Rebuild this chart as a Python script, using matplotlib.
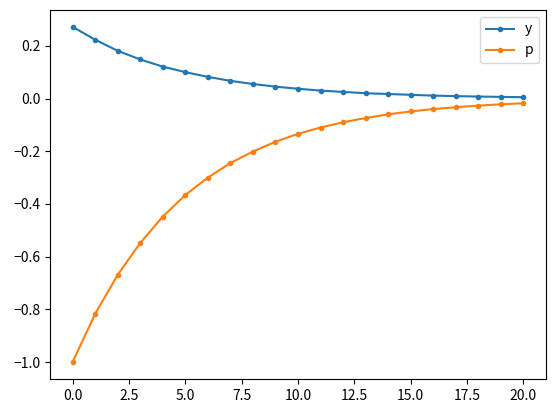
import matplotlib
matplotlib.use('Agg')
import matplotlib.pyplot as plt

plt.rcParams['font.family'] = ['Noto Sans CJK JP', 'DejaVu Sans']
plt.rcParams['axes.unicode_minus'] = True

# values
x = list(range(21))
y = [0.272, 0.223, 0.181, 0.148, 0.121, 0.100, 0.082, 0.067, 0.055, 0.045,
     0.037, 0.030, 0.025, 0.020, 0.017, 0.014, 0.011, 0.009, 0.0075, 0.006, 0.005]
p = [-1.000, -0.817, -0.669, -0.548, -0.448, -0.366, -0.300, -0.245, -0.201, -0.164,
     -0.134, -0.110, -0.090, -0.074, -0.060, -0.049, -0.040, -0.033, -0.027, -0.022, -0.018]

fig = plt.figure(figsize=(5.56, 4.12), dpi=100)
ax = fig.add_axes([50 / 556, 1 - 379 / 412, 496 / 556, 369 / 412])
ax.plot(x, y, marker='.', label='y')
ax.plot(x, p, marker='.', label='p')
ax.legend()

fig.savefig('out.png', dpi=100)
